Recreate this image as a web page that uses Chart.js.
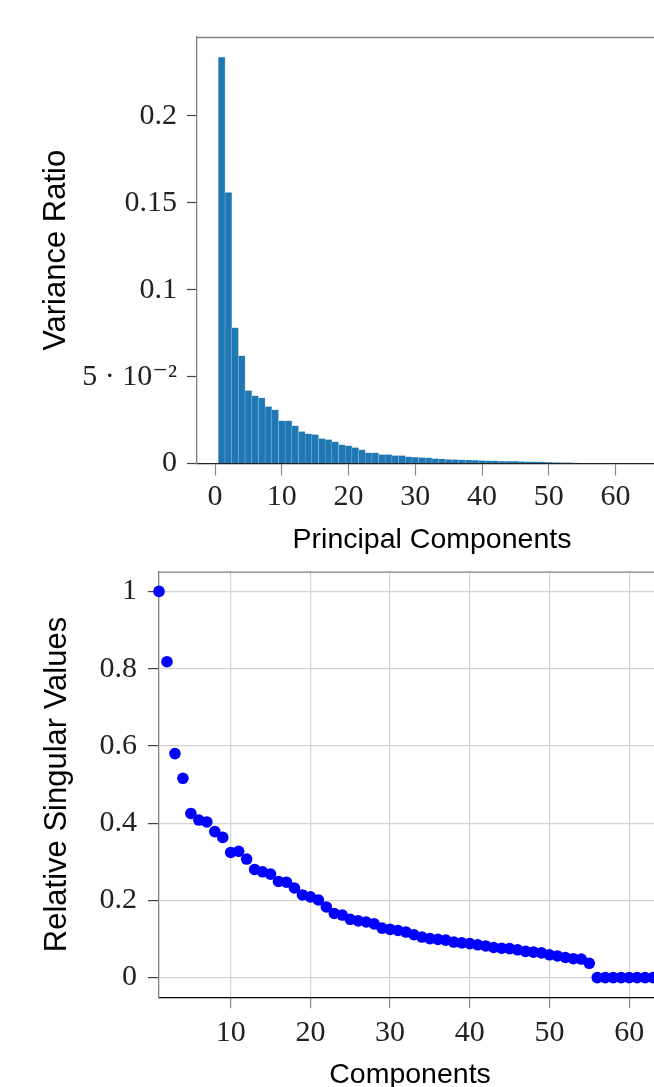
<!DOCTYPE html>
<html>
<head>
<meta charset="utf-8">
<script src="https://cdn.jsdelivr.net/npm/chart.js@4"></script>
<style>
  html, body { margin: 0; padding: 0; background: #fff; overflow: hidden; width: 654px; height: 1087px; }
  #topChart { position: absolute; left: 0; top: 0; }
  #bottomChart { position: absolute; left: 0; top: 540px; }
</style>
</head>
<body>
<canvas id="topChart" width="670" height="560"></canvas>
<canvas id="bottomChart" width="670" height="560"></canvas>
<script>
// component numbers 1..64
const components = [
  1, 2, 3, 4, 5, 6, 7, 8, 9, 10, 11, 12, 13, 14, 15, 16,
  17, 18, 19, 20, 21, 22, 23, 24, 25, 26, 27, 28, 29, 30, 31, 32,
  33, 34, 35, 36, 37, 38, 39, 40, 41, 42, 43, 44, 45, 46, 47, 48,
  49, 50, 51, 52, 53, 54, 55, 56, 57, 58, 59, 60, 61, 62, 63, 64
];

// explained variance ratio per component (top chart)
const varianceRatio = [
  0.2337, 0.156, 0.0782, 0.0621, 0.0420, 0.0391, 0.0379, 0.0328,
  0.0310, 0.0247, 0.0247, 0.0218, 0.0184, 0.0172, 0.0167, 0.0144,
  0.0138, 0.0126, 0.0109, 0.0103, 0.0092, 0.0080, 0.0063, 0.0063,
  0.0052, 0.0052, 0.0046, 0.0046, 0.0040, 0.0036, 0.0035, 0.0033,
  0.0029, 0.0027, 0.0024, 0.0023, 0.0022, 0.0020, 0.0019, 0.0018,
  0.0017, 0.0016, 0.0014, 0.0013, 0.0013, 0.0012, 0.0011, 0.0010,
  0.0010, 0.0008, 0.0007, 0.0006, 0.0006, 0.0005, 0.0003, 0,
  0, 0, 0, 0, 0, 0, 0, 0
];

// relative singular values (bottom chart)
const singularValues = [
  1.0, 0.818, 0.580, 0.516, 0.425, 0.408, 0.403, 0.378,
  0.363, 0.324, 0.327, 0.307, 0.280, 0.274, 0.268, 0.249,
  0.247, 0.232, 0.214, 0.209, 0.201, 0.183, 0.166, 0.162,
  0.151, 0.147, 0.144, 0.139, 0.128, 0.125, 0.122, 0.118,
  0.111, 0.105, 0.101, 0.099, 0.097, 0.092, 0.090, 0.088,
  0.085, 0.082, 0.078, 0.076, 0.075, 0.072, 0.068, 0.066,
  0.064, 0.059, 0.056, 0.052, 0.049, 0.048, 0.037, 0,
  0, 0, 0, 0, 0, 0, 0, 0
];

// tick values and labels
const topXTicks = [0, 10, 20, 30, 40, 50, 60];
const topYTicks = [0, 0.05, 0.1, 0.15, 0.2];
const topYLabels = ['0', '5 \u00b7 10\u207b\u00b2', '0.1', '0.15', '0.2'];
const bottomXTicks = [10, 20, 30, 40, 50, 60];
const bottomYTicks = [0, 0.2, 0.4, 0.6, 0.8, 1];
const bottomYLabels = ['0', '0.2', '0.4', '0.6', '0.8', '1'];

const serif = "'Liberation Serif', 'DejaVu Serif', serif";
const sans = "'Liberation Sans', Arial, sans-serif";

// gray top spine like matplotlib's box
const topSpine = {
  id: 'topSpine',
  beforeDatasetsDraw(chart) {
    const a = chart.chartArea;
    const c = chart.ctx;
    c.save();
    c.strokeStyle = '#808080';
    c.lineWidth = 1.3;
    c.beginPath();
    c.moveTo(a.left, a.top + 0.5);
    c.lineTo(a.right, a.top + 0.5);
    c.stroke();
    c.restore();
  }
};

function fixedTicks(values) {
  return function(scale) {
    scale.ticks = values.map(function(v) { return { value: v }; });
  };
}

Chart.defaults.animation = false;

// Bar chart: variance ratio
new Chart(document.getElementById('topChart').getContext('2d'), {
  type: 'bar',
  data: {
    datasets: [{
      data: components.map(function(c, i) { return { x: c, y: varianceRatio[i] }; }),
      backgroundColor: '#1f77b4',
      borderColor: '#9cc3e0',
      borderWidth: { left: 0.5, right: 0.5, top: 0, bottom: 0 },
      borderSkipped: false,
      barPercentage: 1,
      categoryPercentage: 1
    }]
  },
  options: {
    responsive: false,
    events: [],
    layout: { padding: { top: 37, right: 3, left: 0, bottom: 0 } },
    plugins: { legend: { display: false }, tooltip: { enabled: false } },
    scales: {
      x: {
        type: 'linear',
        min: -2.7,
        max: 67.7,
        offset: false,
        afterBuildTicks: fixedTicks(topXTicks),
        afterFit: function(scale) { scale.height = 96.4; },
        grid: { display: true, drawOnChartArea: false, offset: false, tickLength: 12, tickColor: '#888', tickWidth: 1.2 },
        border: { color: '#222', width: 1.3 },
        ticks: { autoSkip: false, maxRotation: 0, padding: 4, color: '#222', font: { family: serif, size: 30 } },
        title: { display: true, text: 'Principal Components', color: '#000', padding: { top: 0, bottom: 3 }, font: { family: sans, size: 28.5 } }
      },
      y: {
        min: 0,
        max: 0.2454,
        afterBuildTicks: fixedTicks(topYTicks),
        afterFit: function(scale) { scale.width = 197; },
        grid: { display: true, drawOnChartArea: false, tickLength: 10, tickColor: '#444', tickWidth: 1.2 },
        border: { color: '#808080', width: 1.3 },
        ticks: {
          padding: 10, color: '#222', font: { family: serif, size: 30 },
          callback: function(value, index) { return topYLabels[index]; }
        },
        title: { display: true, text: 'Variance Ratio', color: '#000', padding: { top: 37.4, bottom: 0 }, font: { family: sans, size: 31 } }
      }
    }
  },
  plugins: [topSpine]
});

// Scatter chart: relative singular values
new Chart(document.getElementById('bottomChart').getContext('2d'), {
  type: 'scatter',
  data: {
    datasets: [{
      data: components.map(function(c, i) { return { x: c, y: singularValues[i] }; }),
      backgroundColor: '#0000ff',
      borderWidth: 0,
      pointRadius: 5.8,
      clip: false
    }]
  },
  options: {
    responsive: false,
    events: [],
    layout: { padding: { top: 31.7, right: 9, left: 0, bottom: 0 } },
    plugins: { legend: { display: false }, tooltip: { enabled: false } },
    scales: {
      x: {
        type: 'linear',
        min: 1,
        max: 64,
        afterBuildTicks: fixedTicks(bottomXTicks),
        afterFit: function(scale) { scale.height = 102.7; },
        grid: { color: '#d3d3d3', lineWidth: 1.2, tickLength: 11, tickColor: '#888', tickWidth: 1.2 },
        border: { color: '#000', width: 1.3 },
        ticks: { autoSkip: false, maxRotation: 0, padding: 7, color: '#222', font: { family: serif, size: 30 } },
        title: { display: true, text: 'Components', color: '#000', padding: { top: 0, bottom: 8 }, font: { family: sans, size: 28.5 } }
      },
      y: {
        min: -0.051,
        max: 1.051,
        afterBuildTicks: fixedTicks(bottomYTicks),
        afterFit: function(scale) { scale.width = 159; },
        grid: { color: '#d3d3d3', lineWidth: 1.2, tickLength: 11, tickColor: '#444', tickWidth: 1.2 },
        border: { color: '#808080', width: 1.3 },
        ticks: {
          padding: 11, color: '#222', font: { family: serif, size: 30 },
          callback: function(value, index) { return bottomYLabels[index]; }
        },
        title: { display: true, text: 'Relative Singular Values', color: '#000', padding: { top: 38.4, bottom: 0 }, font: { family: sans, size: 31 } }
      }
    }
  },
  plugins: [topSpine]
});
</script>
</body>
</html>
